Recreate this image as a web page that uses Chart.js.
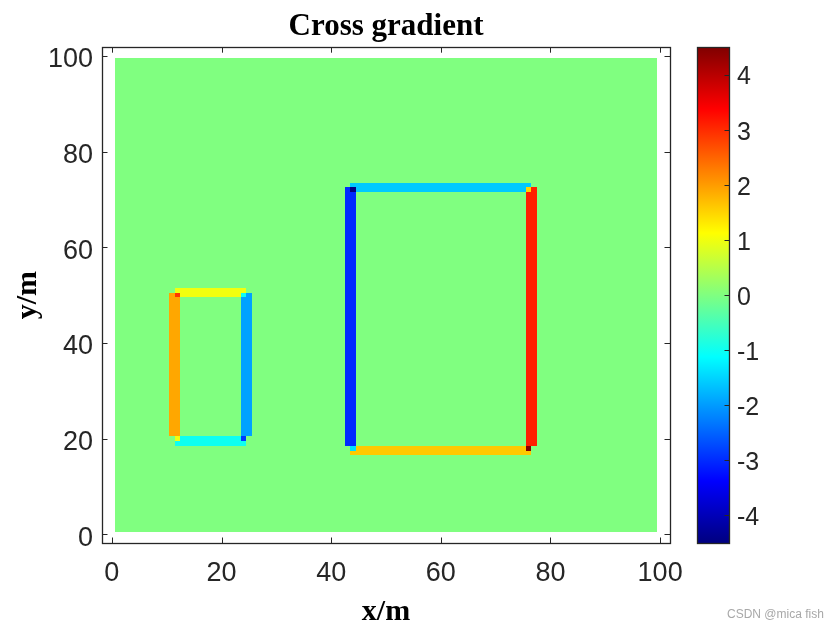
<!DOCTYPE html>
<html>
<head>
<meta charset="utf-8">
<script src="https://cdn.jsdelivr.net/npm/chart.js@4.4.1/dist/chart.umd.min.js"></script>
<style>
  html, body { margin: 0; padding: 0; background: #fff; }
  #wrap { position: relative; width: 840px; height: 630px; }
  #main { position: absolute; left: 0; top: 0; }
  #cbar { position: absolute; left: 690px; top: 0; }
  #mark { position: absolute; left: 727px; top: 607px; font: 12px "Liberation Sans", Arial, sans-serif; color: #a8a8a8; }
</style>
</head>
<body>
<div id="wrap">
  <canvas id="main" width="840" height="630"></canvas>
  <canvas id="cbar" width="150" height="630"></canvas>
  <div id="mark">CSDN @mica fish</div>
</div>
<script>
// image grid: cells 1..99 in both directions, background value 0
const gridN = 99;
const cLim = [-4.5, 4.5];

// small rectangle: cell extents, edge values (left, top, right, bottom), corners (TL, TR, BL, BR)
const smallBoxX = [12, 24];
const smallBoxY = [20, 50];
const smallEdge = [1.9, 1.0, -1.95, -1.0];
const smallCorner = [2.9, -1.0, 1.0, -2.9];

// large rectangle
const bigBoxX = [44, 76];
const bigBoxY = [18, 72];
const bigEdge = [-3.0, -1.6, 3.1, 1.6];
const bigCorner = [-4.5, 1.5, -1.4, 4.5];

const xRange = [-1.8, 101.8];
const yRange = [-1.8, 101.8];
const xTicks = [0, 20, 40, 60, 80, 100];
const yTicks = [0, 20, 40, 60, 80, 100];
const cbTicks = [-4, -3, -2, -1, 0, 1, 2, 3, 4];

function jet(t) {
    t = Math.min(1, Math.max(0, t));
    const c = v => Math.round(255 * Math.min(1, Math.max(0, v)));
    return 'rgb(' + c(1.5 - Math.abs(4 * t - 3)) + ',' + c(1.5 - Math.abs(4 * t - 2)) + ',' + c(1.5 - Math.abs(4 * t - 1)) + ')';
}
const valColor = v => jet((v - cLim[0]) / (cLim[1] - cLim[0]));

// build the value matrix M[y][x]
const M = [];
for (let y = 0; y <= gridN + 1; y++) M.push(new Array(gridN + 2).fill(0));

function addBox(bx, by, edge, corner) {
    const [a, b] = bx, [c, d] = by;
    const [L, T, R, B] = edge;
    for (let y = c + 1; y <= d; y++) { M[y][a - 1] = L; M[y][b + 1] = R; }
    for (let y = c + 1; y < d; y++) { M[y][a] = L; M[y][b] = R; }
    for (let x = a; x <= b; x++) { M[d + 1][x] = T; M[c - 1][x] = B; }
    for (let x = a + 1; x < b; x++) { M[d][x] = T; M[c][x] = B; }
    M[d][a] = corner[0]; M[d][b] = corner[1];
    M[c][a] = corner[2]; M[c][b] = corner[3];
}
addBox(smallBoxX, smallBoxY, smallEdge, smallCorner);
addBox(bigBoxX, bigBoxY, bigEdge, bigCorner);

const cells = [];
for (let y = 1; y <= gridN; y++) {
    for (let x = 1; x <= gridN; x++) cells.push({ x: x, y: y, v: M[y][x] });
}

const axisColor = '#262626';
const tickFont = { family: '"Liberation Sans", Arial, sans-serif', size: 27 };
const labelFont = { family: '"Liberation Serif", "Times New Roman", serif', size: 30, weight: 'bold' };

const heatmap = {
    id: 'heatmap',
    beforeDatasetsDraw(chart) {
        const { ctx, chartArea: a } = chart;
        const xs = chart.scales.x, ys = chart.scales.y;
        ctx.save();
        ctx.beginPath();
        ctx.rect(a.left, a.top, a.right - a.left, a.bottom - a.top);
        ctx.clip();
        chart.data.datasets[0].data.forEach(p => {
            const x0 = Math.round(xs.getPixelForValue(p.x - 0.5));
            const x1 = Math.round(xs.getPixelForValue(p.x + 0.5));
            const y0 = Math.round(ys.getPixelForValue(p.y + 0.5));
            const y1 = Math.round(ys.getPixelForValue(p.y - 0.5));
            ctx.fillStyle = valColor(p.v);
            ctx.fillRect(x0, y0, x1 - x0, y1 - y0);
        });
        ctx.restore();
    }
};

const boxTicks = {
    id: 'boxTicks',
    afterDraw(chart) {
        const { ctx, chartArea: a } = chart;
        const xs = chart.scales.x, ys = chart.scales.y;
        const len = 5.5;
        ctx.save();
        ctx.strokeStyle = axisColor;
        ctx.lineWidth = 1;
        ctx.beginPath();
        xTicks.forEach(v => {
            const px = Math.round(xs.getPixelForValue(v)) + 0.5;
            ctx.moveTo(px, a.bottom); ctx.lineTo(px, a.bottom - len);
            ctx.moveTo(px, a.top); ctx.lineTo(px, a.top + len);
        });
        yTicks.forEach(v => {
            const py = Math.round(ys.getPixelForValue(v)) + 0.5;
            ctx.moveTo(a.left, py); ctx.lineTo(a.left + len, py);
            ctx.moveTo(a.right, py); ctx.lineTo(a.right - len, py);
        });
        ctx.stroke();
        ctx.lineWidth = 1.3;
        ctx.strokeRect(Math.round(a.left) + 0.5, Math.round(a.top) + 0.5,
            Math.round(a.right - a.left), Math.round(a.bottom - a.top));
        ctx.restore();
    }
};

new Chart(document.getElementById('main'), {
    type: 'scatter',
    data: { datasets: [{ data: cells, pointRadius: 0, pointHoverRadius: 0 }] },
    options: {
        responsive: false,
        animation: false,
        events: [],
        layout: { padding: { left: 0, right: 170, top: 0, bottom: 0 } },
        plugins: {
            legend: { display: false },
            tooltip: { enabled: false },
            title: {
                display: true,
                fullSize: false,
                text: 'Cross gradient',
                color: '#000',
                font: { family: '"Liberation Serif", "Times New Roman", serif', size: 31, weight: 'bold' },
                padding: { top: 8, bottom: 2 }
            }
        },
        scales: {
            x: {
                type: 'linear',
                min: xRange[0], max: xRange[1],
                afterBuildTicks: s => { s.ticks = xTicks.map(v => ({ value: v })); },
                afterFit: s => { s.height = 87; s.paddingLeft = 0; s.paddingRight = 0; },
                grid: { display: false, drawTicks: false },
                border: { display: false },
                ticks: { font: tickFont, color: axisColor, padding: 14, maxRotation: 0 },
                title: { display: true, text: 'x/m', color: '#000', font: labelFont, padding: { top: 0, bottom: 0 } }
            },
            y: {
                type: 'linear',
                min: yRange[0], max: yRange[1],
                afterBuildTicks: s => { s.ticks = yTicks.map(v => ({ value: v })); },
                afterFit: s => { s.width = 102; s.paddingTop = 0; s.paddingBottom = 0; },
                grid: { display: false, drawTicks: false },
                border: { display: false },
                ticks: { font: tickFont, color: axisColor, padding: 9, labelOffset: 4 },
                title: { display: true, text: 'y/m', color: '#000', font: labelFont, padding: { top: 10, bottom: 0 } }
            }
        }
    },
    plugins: [heatmap, boxTicks]
});

const cbFrame = {
    id: 'cbFrame',
    afterDraw(chart) {
        const { ctx, chartArea: a } = chart;
        const ys = chart.scales.y;
        ctx.save();
        ctx.strokeStyle = axisColor;
        ctx.lineWidth = 1;
        ctx.beginPath();
        cbTicks.forEach(v => {
            const py = Math.round(ys.getPixelForValue(v)) + 0.5;
            ctx.moveTo(a.right, py); ctx.lineTo(a.right - 4.5, py);
        });
        ctx.stroke();
        ctx.lineWidth = 1.3;
        ctx.strokeRect(Math.round(a.left) + 0.5, Math.round(a.top) + 0.5,
            Math.round(a.right - a.left), Math.round(a.bottom - a.top));
        ctx.restore();
    }
};

new Chart(document.getElementById('cbar'), {
    type: 'bar',
    data: {
        labels: ['cb'],
        datasets: [{
            data: [cLim],
            barPercentage: 1,
            categoryPercentage: 1,
            borderWidth: 0,
            backgroundColor: c => {
                const a = c.chart.chartArea;
                if (!a) return 'rgba(0,0,0,0)';
                const g = c.chart.ctx.createLinearGradient(0, a.bottom, 0, a.top);
                for (let i = 0; i <= 64; i++) g.addColorStop(i / 64, jet(i / 64));
                return g;
            }
        }]
    },
    options: {
        responsive: false,
        animation: false,
        events: [],
        layout: { padding: { left: 7, right: 0, top: 47, bottom: 87 } },
        plugins: { legend: { display: false }, tooltip: { enabled: false }, title: { display: false } },
        scales: {
            x: { display: false },
            y: {
                position: 'right',
                min: cLim[0], max: cLim[1],
                afterBuildTicks: s => { s.ticks = cbTicks.map(v => ({ value: v })); },
                afterFit: s => { s.width = 111; s.paddingTop = 0; s.paddingBottom = 0; },
                grid: { display: false, drawTicks: false },
                border: { display: false },
                ticks: { font: { family: '"Liberation Sans", Arial, sans-serif', size: 25 }, color: axisColor, padding: 8, labelOffset: 3 }
            }
        }
    },
    plugins: [cbFrame]
});
</script>
</body>
</html>
